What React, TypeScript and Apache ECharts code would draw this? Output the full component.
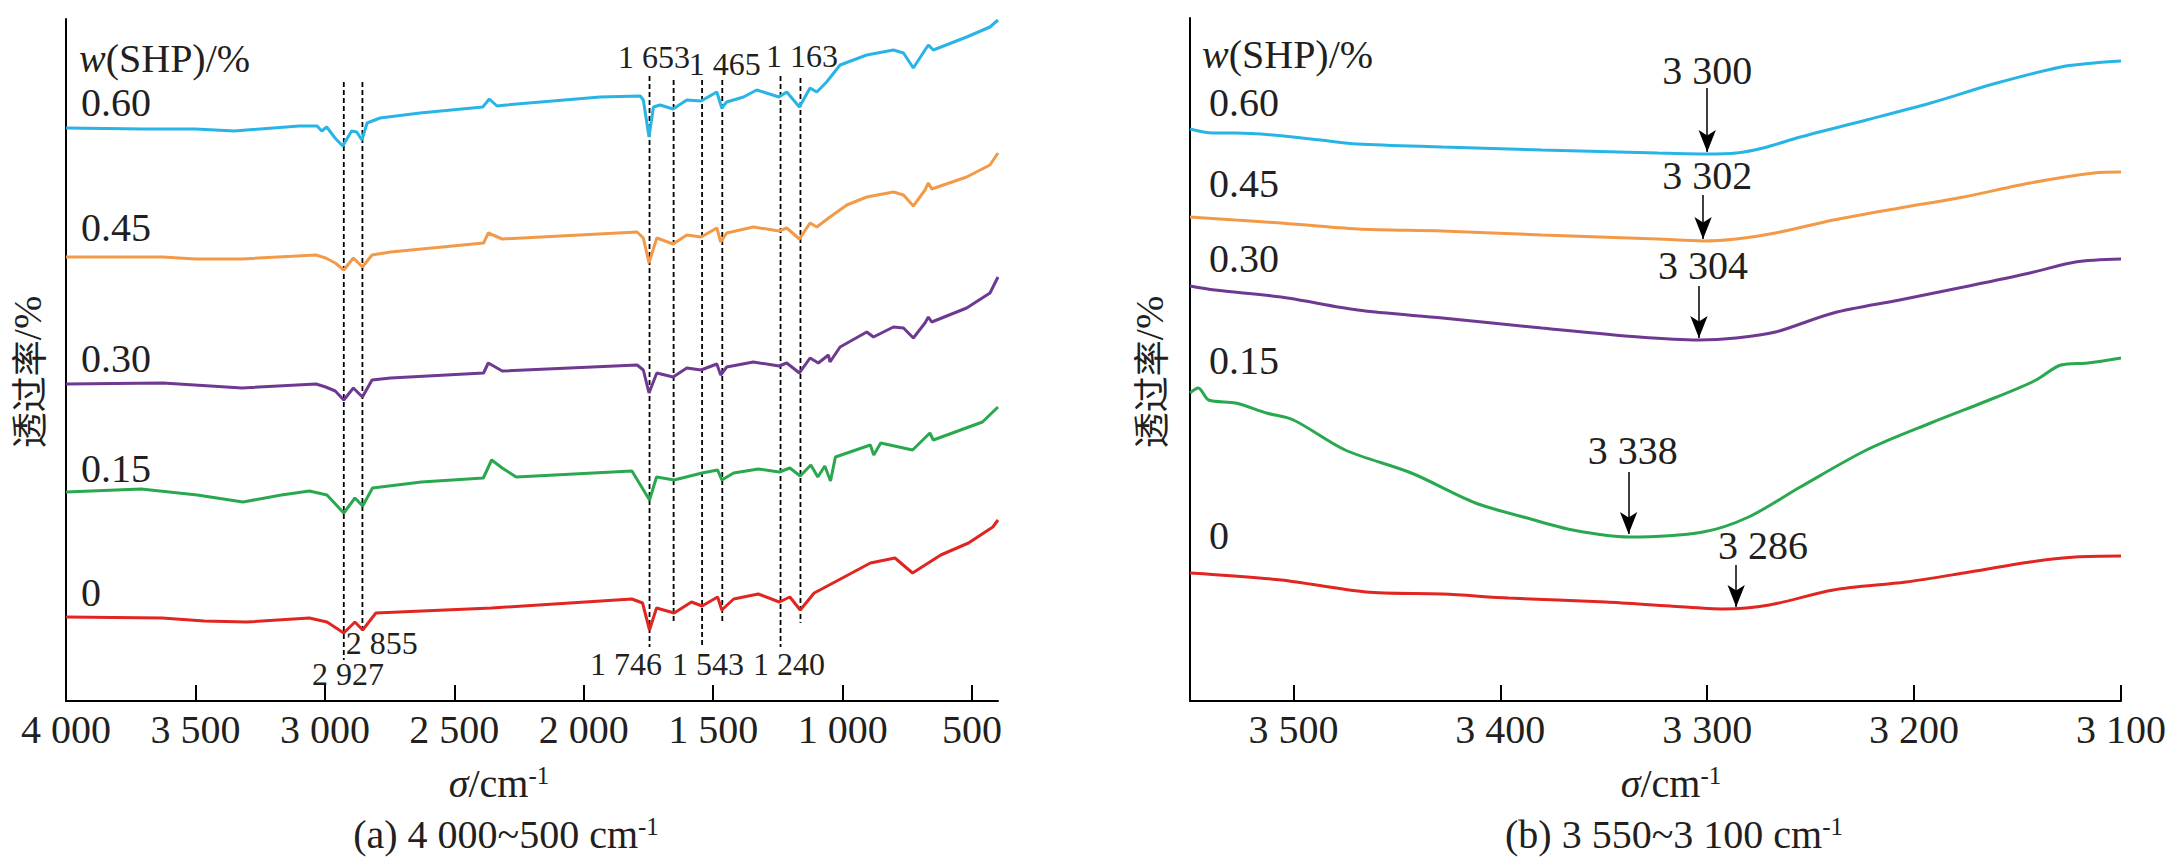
import React, { useEffect, useRef } from 'react';
import * as echarts from 'echarts';

const SERIF = 'Liberation Serif, Times New Roman, serif';
const CJK = 'Noto Sans CJK SC, sans-serif';
const INK = '#231f20';

const levels = ['0.60', '0.45', '0.30', '0.15', '0'];
const colors = ['#29b4e6', '#f39a48', '#6e3a91', '#2aa84f', '#e12520'];

// (a) 4 000~400 cm-1, relative transmittance (curves offset for clarity)
const fullTicks = [4000, 3500, 3000, 2500, 2000, 1500, 1000, 500];
const full060: [number, number][] = [
  [4000, 573], [3700, 572], [3500, 572], [3350, 570], [3100, 575], [3030, 575], [3012, 570],
  [2993, 574], [2961, 563], [2931, 555], [2897, 570], [2877, 569], [2857, 561], [2837, 578],
  [2787, 583], [2633, 588], [2390, 594], [2365, 602], [2335, 595], [2300, 596], [1937, 604],
  [1782, 605], [1770, 601], [1748, 564], [1731, 594], [1705, 596], [1655, 592], [1602, 601],
  [1547, 600], [1486, 609], [1467, 593], [1448, 599], [1383, 604], [1332, 611], [1246, 604],
  [1216, 609], [1167, 594], [1126, 613], [1100, 609], [1062, 619], [1010, 636], [907, 646],
  [804, 651], [765, 648], [727, 633], [682, 651], [669, 656], [650, 651], [521, 664],
  [431, 674], [400, 681],
];
const full045: [number, number][] = [
  [4000, 444], [3626, 444], [3502, 442], [3320, 442], [3034, 446], [2997, 443], [2960, 438],
  [2927, 431], [2890, 443], [2855, 434], [2818, 446], [2746, 449], [2387, 458], [2369, 468],
  [2315, 462], [1794, 469], [1770, 463], [1748, 438], [1718, 463], [1655, 457], [1602, 466],
  [1547, 464], [1486, 473], [1471, 459], [1448, 468], [1345, 474], [1246, 470], [1216, 473],
  [1167, 462], [1126, 478], [1100, 474], [1049, 484], [984, 496], [907, 504], [804, 509],
  [765, 506], [727, 495], [682, 511], [669, 518], [656, 512], [521, 524], [431, 536],
  [400, 548],
];
const full030: [number, number][] = [
  [4000, 317], [3626, 318], [3320, 313], [3034, 317], [2997, 314], [2960, 310], [2927, 301],
  [2890, 313], [2855, 304], [2818, 321], [2746, 323], [2387, 328], [2369, 338], [2315, 330],
  [1794, 336], [1770, 331], [1748, 308], [1718, 328], [1655, 324], [1602, 333], [1547, 331],
  [1486, 337], [1471, 326], [1448, 334], [1345, 339], [1246, 335], [1216, 338], [1167, 328],
  [1126, 343], [1094, 338], [1055, 346], [1049, 339], [1010, 354], [907, 369], [881, 364],
  [804, 374], [765, 373], [727, 363], [682, 378], [669, 384], [656, 379], [521, 393],
  [431, 408], [400, 424],
];
const full015: [number, number][] = [
  [4000, 209], [3710, 212], [3493, 206], [3317, 199], [3168, 206], [3060, 210], [2992, 206],
  [2927, 188], [2884, 203], [2854, 195], [2816, 213], [2627, 219], [2388, 223], [2356, 241],
  [2315, 233], [2261, 224], [1814, 230], [1746, 201], [1719, 224], [1651, 221], [1543, 228],
  [1483, 231], [1467, 221], [1421, 228], [1326, 232], [1245, 229], [1204, 233], [1164, 225],
  [1123, 236], [1096, 224], [1069, 235], [1047, 220], [1028, 244], [893, 256], [880, 246],
  [853, 258], [730, 251], [663, 268], [650, 261], [460, 279], [400, 294],
];
const full000: [number, number][] = [
  [4000, 84], [3629, 83], [3466, 80], [3304, 79], [3060, 83], [2992, 79], [2927, 68],
  [2884, 79], [2854, 71], [2803, 88], [2356, 93], [1814, 102], [1773, 98], [1746, 71],
  [1719, 93], [1651, 88], [1584, 99], [1543, 95], [1483, 104], [1467, 91], [1421, 102],
  [1326, 107], [1245, 99], [1204, 104], [1164, 91], [1110, 108], [1001, 123], [893, 138],
  [798, 143], [730, 128], [621, 146], [514, 158], [420, 174], [400, 181],
];
const fullPeaks = [2927, 2855, 1746, 1653, 1543, 1465, 1240, 1163];
const fullPeakTop = [619, 619, 625, 621, 621, 621, 625, 623];
const fullPeakBottom = [41, 68, 54, 80, 54, 79, 54, 78];
// label text, wavenumber of label centre, height of label centre
const fullPeakLabels: [string, number, number][] = [
  ['2 927', 2911, 27], ['2 855', 2780, 58], ['1 746', 1837, 37], ['1 543', 1520, 37],
  ['1 240', 1207, 37], ['1 653', 1729, 644], ['1 465', 1455, 637], ['1 163', 1157, 645],
];

// (b) 3 550~3 100 cm-1
const zoomTicks = [3500, 3400, 3300, 3200, 3100];
const zoom060: [number, number][] = [
  [3550, 572], [3539, 568], [3528, 568], [3510, 566], [3487, 561], [3469, 557], [3428, 554],
  [3380, 551], [3324, 548], [3300, 547], [3286, 548], [3273, 553], [3255, 564], [3223, 581],
  [3192, 598], [3160, 618], [3129, 634], [3113, 638], [3100, 640],
];
const zoom045: [number, number][] = [
  [3550, 484], [3528, 481], [3506, 478], [3469, 472], [3428, 470], [3380, 466], [3324, 462],
  [3302, 460], [3286, 462], [3267, 468], [3239, 481], [3207, 493], [3176, 504], [3144, 518],
  [3113, 528], [3100, 529],
];
const zoom030: [number, number][] = [
  [3550, 415], [3538, 411], [3506, 404], [3469, 391], [3428, 383], [3380, 373], [3333, 364],
  [3304, 361], [3286, 363], [3267, 369], [3239, 388], [3207, 401], [3176, 414], [3144, 428],
  [3122, 439], [3100, 442],
];
const zoom015: [number, number][] = [
  [3550, 308], [3546, 313], [3541, 301], [3528, 298], [3513, 288], [3500, 281], [3475, 251],
  [3443, 228], [3412, 198], [3387, 183], [3365, 171], [3338, 164], [3302, 169], [3280, 184],
  [3255, 214], [3223, 251], [3192, 278], [3160, 304], [3141, 321], [3129, 336], [3116, 338],
  [3100, 343],
];
const zoom000: [number, number][] = [
  [3550, 128], [3506, 121], [3465, 109], [3428, 107], [3396, 103], [3349, 99], [3318, 95],
  [3292, 92], [3270, 96], [3239, 111], [3204, 119], [3176, 128], [3144, 139], [3122, 144],
  [3100, 145],
];
const zoomMinima = [3300, 3302, 3304, 3338, 3286];
const arrowFrom = [613, 506, 415, 229, 136];
const arrowTo = [549, 462, 363, 167, 94];
const minimaLabelPos: [number, number][] = [[3300, 631], [3300, 526], [3302, 436], [3336, 251], [3273, 156]];

const fullSeries = [full060, full045, full030, full015, full000];
const zoomSeries = [zoom060, zoom045, zoom030, zoom015, zoom000];

const fmtWn = (v: number) =>
  v >= 1000 ? `${Math.floor(v / 1000)} ${String(v % 1000).padStart(3, '0')}` : `${v}`;

const text = (x: number, y: number, t: string, extra: any = {}) => ({
  type: 'text',
  x,
  y,
  silent: true,
  style: {
    text: t,
    fill: INK,
    fontSize: 40,
    fontFamily: SERIF,
    align: 'left',
    verticalAlign: 'middle',
    rich: {
      i: { fontStyle: 'italic', fontSize: 40, fontFamily: SERIF, fill: INK },
      s: { fontSize: 25, fontFamily: SERIF, verticalAlign: 'top', fill: INK },
    },
    ...extra,
  },
});

const yName = (x: number, y: number) => ({
  type: 'text',
  x,
  y,
  rotation: Math.PI / 2,
  silent: true,
  style: {
    text: '透过率{s|/%}',
    fill: INK,
    fontSize: 36,
    fontFamily: CJK,
    align: 'center',
    verticalAlign: 'middle',
    rich: { s: { fontSize: 40, fontFamily: SERIF, fill: INK } },
  },
});

const App: React.FC = () => {
  const chartRef = useRef<HTMLDivElement>(null);

  useEffect(() => {
    document.body.style.margin = '0';
    if (!chartRef.current) return;
    const chart = echarts.init(chartRef.current, undefined, { renderer: 'svg' });

    const xAxisBase = {
      type: 'value',
      inverse: true,
      splitLine: { show: false },
      axisLine: { onZero: false, lineStyle: { color: '#000', width: 2 } },
      axisLabel: {
        fontSize: 40,
        fontFamily: SERIF,
        color: INK,
        margin: 8,
        formatter: fmtWn,
      },
    };
    const yAxisBase = {
      type: 'value',
      min: 0,
      axisLine: { show: true, onZero: false, lineStyle: { color: '#000', width: 2 } },
      axisTick: { show: false },
      axisLabel: { show: false },
      splitLine: { show: false },
    };

    const series: any[] = [];

    fullPeaks.forEach((wn, i) => {
      series.push({
        type: 'line',
        xAxisIndex: 0,
        yAxisIndex: 0,
        silent: true,
        symbol: 'none',
        z: 1,
        lineStyle: { color: '#000', width: 1.8, type: [5, 3] },
        data: [[wn, fullPeakTop[i]], [wn, fullPeakBottom[i]]],
      });
    });

    fullSeries.forEach((d, i) => {
      series.push({
        name: `a-${levels[i]}`,
        type: 'line',
        xAxisIndex: 0,
        yAxisIndex: 0,
        symbol: 'none',
        z: 2,
        lineStyle: { color: colors[i], width: 3 },
        data: d,
      });
    });

    zoomSeries.forEach((d, i) => {
      series.push({
        name: `b-${levels[i]}`,
        type: 'line',
        xAxisIndex: 1,
        yAxisIndex: 1,
        symbol: 'none',
        smooth: 0.3,
        z: 2,
        lineStyle: { color: colors[i], width: 3 },
        data: d,
        markLine:
          i === 4
            ? {
                silent: true,
                symbol: ['none', 'arrow'],
                symbolSize: [13, 22],
                label: { show: false },
                lineStyle: { color: '#000', width: 1.5, type: 'solid' },
                data: zoomMinima.map((wn, k) => [
                  { coord: [wn, arrowFrom[k]] },
                  { coord: [wn, arrowTo[k]] },
                ]),
              }
            : undefined,
      });
    });

    chart.setOption({
      animation: false,
      grid: [
        { left: 66, top: 19, width: 932, height: 682 },
        { left: 1190, top: 18, width: 931, height: 683 },
      ],
      xAxis: [
        {
          ...xAxisBase,
          gridIndex: 0,
          min: 400,
          max: 4000,
          axisTick: {
            inside: true,
            length: 16,
            customValues: fullTicks.slice(1),
            lineStyle: { color: '#000', width: 2 },
          },
          axisLabel: { ...xAxisBase.axisLabel, customValues: fullTicks },
        },
        {
          ...xAxisBase,
          gridIndex: 1,
          min: 3100,
          max: 3550,
          axisTick: {
            inside: true,
            length: 16,
            customValues: zoomTicks,
            lineStyle: { color: '#000', width: 2 },
          },
          axisLabel: { ...xAxisBase.axisLabel, customValues: zoomTicks },
        },
      ],
      yAxis: [
        { ...yAxisBase, gridIndex: 0, max: 682 },
        { ...yAxisBase, gridIndex: 1, max: 683 },
      ],
      series,
    });

    // peak labels placed through the axes' own scales
    const peakTexts = fullPeakLabels.map(([t, wn, h]) => {
      const [px, py] = chart.convertToPixel({ gridIndex: 0 }, [wn, h]) as number[];
      return text(px, py, t, { align: 'center', fontSize: 32 });
    });
    const minimaTexts = zoomMinima.map((wn, k) => {
      const [px, py] = chart.convertToPixel({ gridIndex: 1 }, minimaLabelPos[k]) as number[];
      return text(px, py, fmtWn(wn), { align: 'center' });
    });

    const leftLabelY = [102, 227, 358, 468, 592];
    const rightLabelY = [102, 183, 258, 360, 535];

    chart.setOption({
      graphic: [
        text(79, 58, '{i|w}(SHP)/%'),
        text(1202, 54, '{i|w}(SHP)/%'),
        ...levels.map((l, i) => text(81, leftLabelY[i], l)),
        ...levels.map((l, i) => text(1209, rightLabelY[i], l)),
        yName(27, 372),
        yName(1149, 372),
        text(499, 783, '{i|σ}/cm{s|-1}', { align: 'center' }),
        text(1671, 783, '{i|σ}/cm{s|-1}', { align: 'center' }),
        text(506, 834, '(a) 4 000~500 cm{s|-1}', { align: 'center' }),
        text(1674, 834, '(b) 3 550~3 100 cm{s|-1}', { align: 'center' }),
        ...peakTexts,
        ...minimaTexts,
      ],
    });

    return () => {
      chart.dispose();
    };
  }, []);

  return <div ref={chartRef} style={{ width: '2171px', height: '863px' }} />;
};

export default App;
